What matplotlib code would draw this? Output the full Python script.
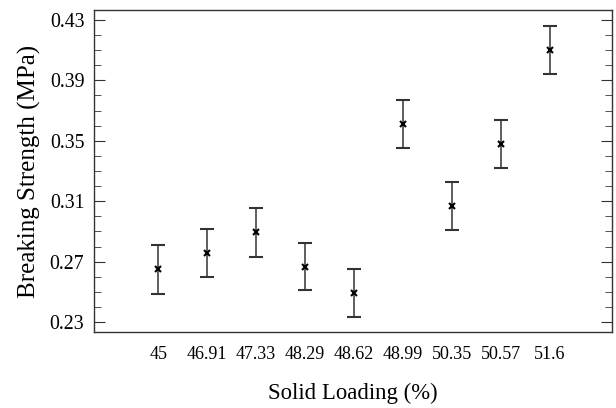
import numpy as np
import matplotlib.pyplot as plt
from matplotlib.ticker import MultipleLocator

plt.rcParams['font.family'] = ['Liberation Serif', 'DejaVu Serif']

# data
loading = ['45', '46.91', '47.33', '48.29', '48.62', '48.99', '50.35', '50.57', '51.6']
strength = [0.265, 0.2755, 0.2893, 0.2667, 0.249, 0.3613, 0.3068, 0.3480, 0.4103]
err = [0.0163, 0.0159, 0.016, 0.0157, 0.0159, 0.016, 0.016, 0.0159, 0.0158]

fig = plt.figure(figsize=(6.16, 4.08), dpi=100)
ax = fig.add_axes([94/616, 76/408, 518/616, 322/408])

x = np.arange(len(loading))
ax.errorbar(x, strength, yerr=err, fmt='x', color='black', ms=4.5, mew=1.5,
            ecolor='#333333', elinewidth=1.1, capsize=5, capthick=1.1)

ax.set_xlim(-1.31, 9.27)
ax.set_ylim(0.2234, 0.4366)
ax.set_xticks(x)
ax.set_xticklabels(loading)
ax.set_yticks([0.23, 0.27, 0.31, 0.35, 0.39, 0.43])
ax.set_yticklabels(['0.23', '0.27', '0.31', '0.35', '0.39', '0.43'])
ax.yaxis.set_minor_locator(MultipleLocator(0.01))

ax.tick_params(axis='x', length=0, pad=10, labelsize=13)
ax.tick_params(axis='y', which='both', direction='in', right=True, labelsize=14.3, pad=7, color='#333333')
ax.tick_params(axis='y', which='major', length=8)
ax.tick_params(axis='y', which='minor', length=5)
for s in ax.spines.values():
    s.set_color('#333333')
    s.set_linewidth(1.0)

ax.set_xlabel('Solid Loading (%)', fontsize=16.4, labelpad=14)
ax.set_ylabel('Breaking Strength (MPa)', fontsize=18, labelpad=6)

fig.savefig('out.png', dpi=100)
